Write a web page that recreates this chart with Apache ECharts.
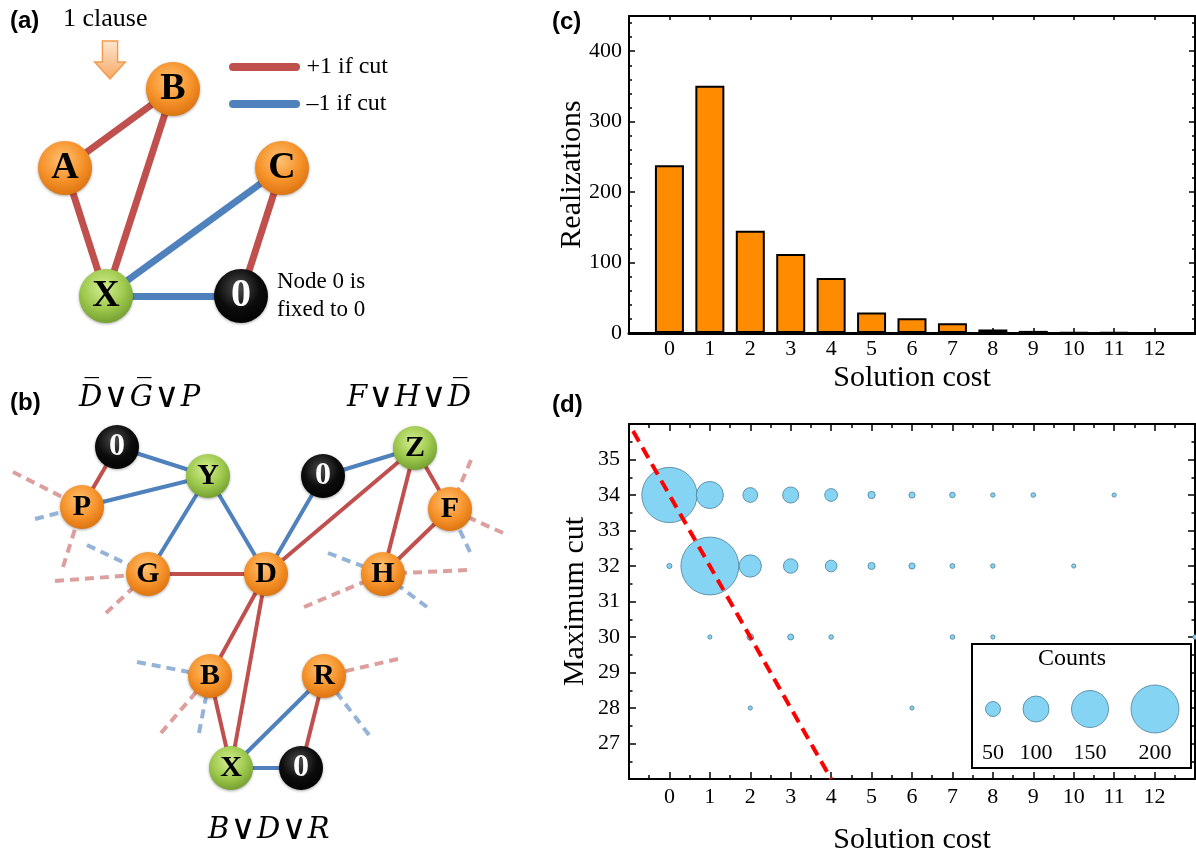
<!DOCTYPE html>
<html><head><meta charset="utf-8">
<script src="https://cdn.jsdelivr.net/npm/echarts@6/dist/echarts.min.js"></script>
<style>html,body{margin:0;padding:0;background:#fff}#main{width:1196px;height:856px}</style>
</head><body><div id="main"></div>
<script>
// ===== Panel (c): histogram of solution cost =====
const costCategories = [0,1,2,3,4,5,6,7,8,9,10,11,12];
const realizations   = [238,351,145,112,78,29,21,14,5,3,1,1,0];

// ===== Panel (d): bubble chart (solution cost, maximum cut, counts) =====
const bubbleCost   = [0,1,2,3,4,5,6,7,8,9,11,  0,1,2,3,4,5,6,7,8,10,  1,2,3,4,7,8,13,  2,6];
const bubbleMaxCut = [34,34,34,34,34,34,34,34,34,34,34,  32,32,32,32,32,32,32,32,32,32,  30,30,30,30,30,30,30,  28,28];
const bubbleCounts = [233,105,49,55,40,15,10,7,2,3,1,  5,245,83,48,35,14,10,4,2,1,  1,12,9,3,3,1,2,  1,1];
const legendCounts = [50,100,150,200];
const boundCost = [-0.9, 4];
const boundCut  = [35.8, 26];
const xTicksMin = -1, xTicksMax = 13;

// ===== Panel (a): one-clause gadget =====
const aNodeIds  = ['A','B','C','X','0'];
const aNodeX    = [65,173,282,106,241];
const aNodeY    = [168,89,168,296,296];
const aNodeKind = ['orange','orange','orange','green','black'];
const aEdges    = [['A','B','+'],['A','X','+'],['B','X','+'],['C','X','-'],['C','0','+'],['X','0','-']];
const aLegendText = ['+1 if cut','\u20131 if cut'];
const aLegendSign = ['+','-'];
const aLegendX = [233,296];
const aLegendY = [67,104];
const aArrowPos = [110,60];

// ===== Panel (b): three coupled clauses =====
const bNodeIds  = ['0p','Y','P','G','D','0z','Z','F','H','B','R','X','0x'];
const bNodeX    = [117,208,82,148,266,323,415,450,383,210,324,231,301];
const bNodeY    = [447,476,507,574,574,476,448,509,574,676,676,768,768];
const bNodeKind = ['black','green','orange','orange','orange','black','green','orange','orange','orange','orange','green','black'];
const bEdges = [['0p','Y','-'],['0p','P','+'],['P','Y','-'],['Y','G','-'],['Y','D','-'],['G','D','+'],
  ['0z','D','-'],['D','Z','+'],['0z','Z','-'],['Z','H','+'],['Z','F','+'],['F','H','+'],
  ['D','B','+'],['D','X','+'],['B','X','+'],['X','R','-'],['R','0x','+'],['X','0x','-']];
const bStubNode = ['P','P','P','G','G','G','F','F','F','H','H','H','H','B','B','B','R','R'];
const bStubX    = [13,35,63,87,55,106,471,503,470,328,467,304,427,137,161,199,398,369];
const bStubY    = [472,519,567,545,581,613,460,533,552,553,570,607,607,662,733,733,659,735];
const bStubSign = ['+','-','+','-','+','+','+','+','-','-','+','+','-','-','+','-','+','-'];

const SERIF = 'Liberation Serif', SANS = 'Liberation Sans';
const RED = '#C0504D', BLUE = '#4F81BD';

function ball(kind){
  const stops = {
    orange:['#FFC274','#F6922A','#D66C0A'],
    green:['#D4EE92','#9DC84C','#6B962A'],
    black:['#4d4d4d','#0c0c0c','#000000']
  }[kind];
  return {type:'radial',x:0.45,y:0.35,r:0.72,colorStops:[{offset:0,color:stops[0]},{offset:0.55,color:stops[1]},{offset:1,color:stops[2]}]};
}
function nodeItem(id,name,x,y,kind,size,fs){
  return {id:id,name:name,value:[x,y],symbol:'circle',symbolSize:size,
    itemStyle:{color:ball(kind),shadowBlur:3,shadowColor:'rgba(0,0,0,0.35)',shadowOffsetY:1},
    label:{show:true,position:'inside',formatter:name,fontFamily:SERIF,fontWeight:'bold',
      fontSize:(kind==='black'?fs+2:fs),color:(kind==='black'?'#fff':'#000')}};
}
function hiddenNode(id,x,y){
  return {id:id,name:'',value:[x,y],symbolSize:1,itemStyle:{color:'rgba(0,0,0,0)',borderWidth:0,shadowBlur:0},label:{show:false}};
}

const nodes = [], links = [];
aNodeIds.forEach((n,i)=>nodes.push(nodeItem('a'+n,n,aNodeX[i],aNodeY[i],aNodeKind[i],54,38)));
aEdges.forEach(e=>links.push({source:'a'+e[0],target:'a'+e[1],lineStyle:{color:e[2]==='+'?RED:BLUE,width:7,opacity:1}}));
aLegendText.forEach((t,i)=>{
  nodes.push(hiddenNode('la'+i+'s',aLegendX[0],aLegendY[i]));
  const end = hiddenNode('la'+i+'e',aLegendX[1],aLegendY[i]);
  end.label = {show:true,position:'right',distance:10,formatter:t,fontFamily:SERIF,fontSize:24,color:'#000'};
  nodes.push(end);
  links.push({source:'la'+i+'s',target:'la'+i+'e',lineStyle:{color:aLegendSign[i]==='+'?RED:BLUE,width:8,opacity:1,cap:'round'}});
});
nodes.push({id:'arrow',name:'',value:aArrowPos,symbol:'path://M8.5,0 L25.5,0 L25.5,21 L34,21 L17,38 L0,21 L8.5,21 Z',
  symbolSize:[34,38],symbolKeepAspect:true,
  itemStyle:{color:{type:'linear',x:0,y:0,x2:0,y2:1,colorStops:[{offset:0,color:'#FDE6D2'},{offset:1,color:'#F8A862'}]},borderColor:'#F39A4C',borderWidth:1.5},
  label:{show:false}});

bNodeIds.forEach((n,i)=>nodes.push(nodeItem('b'+n,n.charAt(0),bNodeX[i],bNodeY[i],bNodeKind[i],44,30)));
bStubNode.forEach((n,i)=>{
  nodes.push(hiddenNode('stub'+i,bStubX[i],bStubY[i]));
  links.push({source:'stub'+i,target:'b'+n,lineStyle:{color:bStubSign[i]==='+'?'rgba(192,80,77,0.55)':'rgba(79,129,189,0.6)',width:4,type:[9,6],opacity:1}});
});
bEdges.forEach(e=>links.push({source:'b'+e[0],target:'b'+e[1],lineStyle:{color:e[2]==='+'?RED:BLUE,width:4,opacity:1}}));

// ===== axes helpers =====
const AX = '#000';
function frameX(grid,pos,show,extra){
  return Object.assign({gridIndex:grid,type:'value',position:pos,min:xTicksMin,max:xTicksMax,interval:1,
    axisLine:{show:true,onZero:false,lineStyle:{color:AX,width:2}},
    axisTick:{show:true,inside:true,length:5,lineStyle:{color:AX,width:1.5}},
    axisLabel:{show:show,margin:6,fontFamily:SERIF,fontSize:22,color:'#000',
      formatter:v=>(v<0||v>12)?'':String(v)},
    splitLine:{show:false}},extra||{});
}
function frameY(grid,pos,min,max,interval,minorSplit,tickLen,extra){
  return Object.assign({gridIndex:grid,type:'value',position:pos,min:min,max:max,interval:interval,
    axisLine:{show:true,onZero:false,lineStyle:{color:AX,width:2}},
    axisTick:{show:true,inside:true,length:tickLen,lineStyle:{color:AX,width:1.5}},
    minorTick:{show:true,splitNumber:minorSplit,length:tickLen/2,lineStyle:{color:AX,width:1.5}},
    axisLabel:{show:false},splitLine:{show:false},minorSplitLine:{show:false}},extra||{});
}
const bubbleData = bubbleCost.map((c,i)=>[c,bubbleMaxCut[i],bubbleCounts[i]]);
const barData = costCategories.map((c,i)=>[c,realizations[i]]);
const sizeOf = c => 4 + 0.22*c;
// legend positions: constant edge gap between consecutive legend bubbles
const legendPos = [];
legendCounts.forEach((c,i)=>{
  if(i===0) legendPos.push(0);
  else legendPos.push(legendPos[i-1]+sizeOf(legendCounts[i-1])/2+sizeOf(c)/2+22.5);
});
const legendData = legendCounts.map((c,i)=>[legendPos[i],0.5,c]);
const nameStyle = {fontFamily:SERIF,fontSize:30,color:'#000'};
const formulaRich = {i:{fontFamily:'DejaVu Serif',fontStyle:'italic',fontSize:29,fill:'#000'},
                     o:{fontFamily:'DejaVu Sans',fontSize:35,fill:'#000',padding:[0,1]}};

const option = {
  animation:false,
  backgroundColor:'#fff',
  grid:[
    {left:0,top:0,width:1196,height:856,containLabel:false,outerBoundsMode:'none'},
    {left:629,top:16,width:566,height:317,containLabel:false,outerBoundsMode:'none'},
    {left:629,top:424,width:566,height:355,containLabel:false,outerBoundsMode:'none'},
    {left:993,top:700,width:200,height:18,containLabel:false,outerBoundsMode:'none'}
  ],
  xAxis:[
    {gridIndex:0,type:'value',min:0,max:1196,show:false},
    frameX(1,'bottom',true,{axisLine:{show:true,onZero:false,lineStyle:{color:AX,width:3}},
      axisLabel:{show:true,margin:5,fontFamily:SERIF,fontSize:22,color:'#000',formatter:v=>(v<0||v>12)?'':String(v)},
      name:'Solution cost',nameLocation:'middle',nameGap:30,nameMoveOverlap:false,nameTextStyle:nameStyle}),
    frameX(1,'top',false,{axisTick:{show:true,inside:true,length:4,lineStyle:{color:AX,width:1.5}}}),
    frameX(2,'bottom',true,{axisLabel:{show:true,margin:7,fontFamily:SERIF,fontSize:22,color:'#000',formatter:v=>(v<0||v>12)?'':String(v)},
      axisTick:{show:true,inside:true,length:7,lineStyle:{color:AX,width:1.5}},
      minorTick:{show:true,splitNumber:2,length:4,lineStyle:{color:AX,width:1.5}},
      name:'Solution cost',nameLocation:'middle',nameGap:46,nameMoveOverlap:false,nameTextStyle:nameStyle}),
    frameX(2,'top',false,{axisTick:{show:true,inside:true,length:7,lineStyle:{color:AX,width:1.5}},
      minorTick:{show:true,splitNumber:2,length:4,lineStyle:{color:AX,width:1.5}}}),
    {gridIndex:3,type:'value',min:0,max:200,show:false}
  ],
  yAxis:[
    {gridIndex:0,type:'value',min:0,max:856,inverse:true,show:false},
    frameY(1,'left',0,450,100,5,6,{
      axisLabel:{show:true,margin:7,fontFamily:SERIF,fontSize:22,color:'#000',formatter:v=>v>400?'':String(v)},
      name:'Realizations',nameLocation:'middle',nameGap:42,nameRotate:90,nameMoveOverlap:false,nameTextStyle:nameStyle}),
    frameY(1,'right',0,450,100,5,6),
    frameY(2,'left',26,36,1,2,7,{
      axisLabel:{show:true,margin:9,fontFamily:SERIF,fontSize:22,color:'#000',formatter:v=>(v<27||v>35)?'':String(v)},
      name:'Maximum cut',nameLocation:'middle',nameGap:39,nameRotate:90,nameMoveOverlap:false,nameTextStyle:nameStyle}),
    frameY(2,'right',26,36,1,2,7),
    {gridIndex:3,type:'value',min:0,max:1,show:false}
  ],
  graphic:{elements:[
    {type:'text',x:10,y:21,style:{text:'(a)',font:'bold 24px "Liberation Sans"',fill:'#000',verticalAlign:'middle'}},
    {type:'text',x:63,y:19,style:{text:'1 clause',font:'26px "Liberation Serif"',fill:'#000',verticalAlign:'middle'}},
    {type:'text',x:277,y:282,style:{text:'Node 0 is',font:'23px "Liberation Serif"',fill:'#000',verticalAlign:'middle'}},
    {type:'text',x:277,y:310,style:{text:'fixed to 0',font:'23px "Liberation Serif"',fill:'#000',verticalAlign:'middle'}},
    {type:'text',x:10,y:403,style:{text:'(b)',font:'bold 24px "Liberation Sans"',fill:'#000',verticalAlign:'middle'}},
    {type:'text',x:79,y:398,style:{text:'{i|D\u0305}{o|\u2228}{i|G\u0305}{o|\u2228}{i|P}',verticalAlign:'middle',rich:formulaRich}},
    {type:'text',x:347,y:398,style:{text:'{i|F}{o|\u2228}{i|H}{o|\u2228}{i|D\u0305}',verticalAlign:'middle',rich:formulaRich}},
    {type:'text',x:208,y:830,style:{text:'{i|B}{o|\u2228}{i|D}{o|\u2228}{i|R}',verticalAlign:'middle',rich:formulaRich}},
    {type:'text',x:552,y:22,style:{text:'(c)',font:'bold 24px "Liberation Sans"',fill:'#000',verticalAlign:'middle'}},
    {type:'text',x:552,y:405,style:{text:'(d)',font:'bold 24px "Liberation Sans"',fill:'#000',verticalAlign:'middle'}},
    {type:'rect',z:1,shape:{x:972,y:644,width:219,height:124},style:{fill:'#fff',stroke:'#000',lineWidth:2}},
    {type:'text',z:5,x:1072,y:659,style:{text:'Counts',font:'24px "Liberation Serif"',fill:'#000',align:'center',verticalAlign:'middle'}}
  ]},
  series:[
    {type:'graph',coordinateSystem:'cartesian2d',xAxisIndex:0,yAxisIndex:0,layout:'none',silent:true,
      data:nodes,links:links,edgeSymbol:['none','none'],lineStyle:{curveness:0,opacity:1},z:3,
      emphasis:{disabled:true}},
    {type:'bar',xAxisIndex:1,yAxisIndex:1,data:barData,barWidth:29,silent:true,
      itemStyle:{color:'#FF8C00',borderColor:'#000',borderWidth:2}},
    {type:'scatter',xAxisIndex:3,yAxisIndex:3,data:bubbleData,silent:true,
      symbolSize:v=>sizeOf(v[2]),
      itemStyle:{color:'#85D4F4',borderColor:'#4d7f96',borderWidth:0.8,opacity:1}},
    {type:'line',xAxisIndex:3,yAxisIndex:3,data:boundCost.map((c,i)=>[c,boundCut[i]]),symbol:'none',silent:true,
      lineStyle:{color:'#FF0000',width:4,type:[12,7]},z:4},
    {type:'scatter',xAxisIndex:5,yAxisIndex:5,data:legendData,silent:true,z:4,
      symbolSize:v=>sizeOf(v[2]),
      itemStyle:{color:'#85D4F4',borderColor:'#4d7f96',borderWidth:0.8,opacity:1},
      label:{show:true,position:'inside',offset:[0,44],formatter:p=>String(p.value[2]),
        fontFamily:SERIF,fontSize:22,color:'#000'}}
  ]
};
const chart = echarts.init(document.getElementById('main'));
chart.setOption(option);
</script></body></html>
